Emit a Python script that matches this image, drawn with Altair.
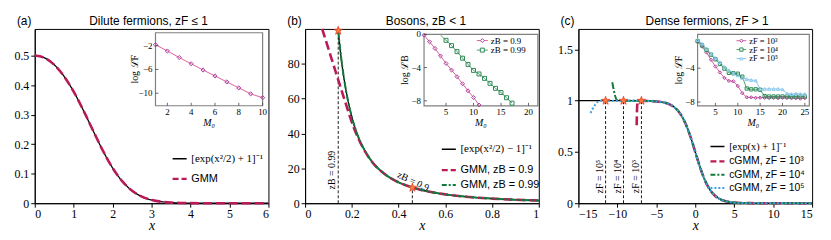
import altair as alt
import pandas as pd

# ---------------- panel (a): dilute fermions ----------------
a_x = [0.0, 0.25, 0.5, 0.75, 1.0, 1.25, 1.5, 1.75, 2.0, 2.25, 2.5, 2.75, 3.0,
       3.25, 3.5, 3.75, 4.0, 4.5, 5.0, 5.5, 6.0]
a_exact = [0.5, 0.4922, 0.4688, 0.4301, 0.3775, 0.314, 0.2451, 0.1778, 0.1192,
           0.0737, 0.0421, 0.0223, 0.011, 0.0051, 0.0022, 0.0009, 0.0003, 0.0,
           0.0, 0.0, 0.0]
a_gmm = [0.5, 0.4921, 0.4687, 0.4302, 0.3776, 0.3141, 0.2451, 0.1777, 0.1191,
         0.0737, 0.0422, 0.0224, 0.0111, 0.005, 0.0021, 0.0008, 0.0003, 0.0,
         0.0, 0.0, 0.0]
a_M = [1, 2, 3, 4, 5, 6, 7, 8, 9, 10]
a_logL = [-1.85, -2.9, -4.0, -5.05, -6.1, -7.1, -8.1, -9.1, -10.1, -10.75]
a_in_xt = [2, 4, 6, 8, 10]
a_in_xl = ["2", "4", "6", "8", "10"]
a_in_yt = [-10, -6, -2]
a_in_yl = ["−10", "−6", "−2"]
a_leg = ["[exp(x²/2) + 1]⁻¹", "GMM"]

# ---------------- panel (b): bosons ----------------
b_x_exact = [0.1411, 0.15, 0.16, 0.17, 0.18, 0.2, 0.22, 0.25, 0.28, 0.3, 0.35,
             0.4, 0.45, 0.5, 0.6, 0.7, 0.8, 0.9, 1.0]
b_exact = [100.0, 88.4, 77.6, 68.7, 61.2, 49.5, 40.8, 31.5, 25.0, 21.7, 15.83,
           12.01, 9.39, 7.51, 5.07, 3.6, 2.65, 2.0, 1.54]
b_x_gmm09 = [0.073, 0.09, 0.11, 0.13, 0.15, 0.17, 0.19, 0.21, 0.23, 0.25, 0.28,
             0.3, 0.35, 0.4, 0.45, 0.5, 0.6, 0.7, 0.8, 0.9, 1.0]
b_gmm09 = [100.0, 92.8, 84.3, 75.8, 67.3, 58.8, 50.5, 42.8, 36.6, 31.3, 24.9,
           21.6, 15.8, 12.0, 9.4, 7.5, 5.07, 3.6, 2.65, 2.0, 1.54]
b_x_gmm099 = [0.1418, 0.15, 0.16, 0.17, 0.18, 0.2, 0.22, 0.25, 0.28, 0.3, 0.35,
              0.4, 0.45, 0.5, 0.6, 0.7, 0.8, 0.9, 1.0]
b_gmm099 = [99.0, 88.4, 77.6, 68.7, 61.2, 49.5, 40.8, 31.5, 25.0, 21.7, 15.83,
            12.01, 9.39, 7.51, 5.07, 3.6, 2.65, 2.0, 1.54]
b_mark_x = [0.1418, 0.459]
b_mark_y = [99.0, 8.96]
b_lab_x = [0.115, 0.462]
b_lab_y = [19.0, 12.5]
b_M1 = [1, 2, 3, 4, 5, 6, 7, 8, 9, 10, 11]
b_L1 = [-0.1, -0.9, -1.7, -2.6, -3.5, -4.3, -5.1, -5.95, -6.8, -7.6, -8.5]
b_M2_line = [4, 5, 6, 7, 8, 9, 10, 11, 12, 13, 14, 15, 16, 17]
b_L2_line = [-0.1, -0.72, -1.36, -2.08, -2.87, -3.62, -4.34, -4.77, -5.3, -5.9,
             -6.5, -7.0, -7.63, -8.28]
b_M2 = [5, 6, 7, 8, 9, 10, 11, 12, 13, 14, 15, 16, 17]
b_L2 = [-0.72, -1.36, -2.08, -2.87, -3.62, -4.34, -4.77, -5.3, -5.9, -6.5,
        -7.0, -7.63, -8.28]
b_in_xt = [5, 10, 15, 20]
b_in_xl = ["5", "10", "15", "20"]
b_in_yt = [-8, -4, 0]
b_in_yl = ["−8", "−4", "0"]
b_leg = ["[exp(x²/2) − 1]⁻¹", "GMM, zB = 0.9", "GMM, zB = 0.99"]
b_in_leg = ["zB = 0.9", "zB = 0.99"]

# ---------------- panel (c): dense fermions ----------------
c_x_exact = [-15, -12, -10, -8, -7, -6, -5, -4, -3.5, -3, -2.5, -2, -1.5, -1,
             -0.5, 0, 0.5, 1, 1.5, 2, 2.5, 3, 3.5, 4, 5, 6, 7, 8, 10, 12, 15]
c_exact = [1.0, 1.0, 1.0, 0.9997, 0.9991, 0.9975, 0.9933, 0.982, 0.9707,
           0.9526, 0.9241, 0.8808, 0.8176, 0.7311, 0.6225, 0.5, 0.3775, 0.2689,
           0.1824, 0.1192, 0.0759, 0.0474, 0.0293, 0.018, 0.0067, 0.0025,
           0.0009, 0.0003, 0.0, 0.0, 0.0]
c_x_tail = [-6, -5, -4, -3.5, -3, -2.5, -2, -1.5, -1, -0.5, 0, 0.5, 1, 1.5, 2,
            2.5, 3, 3.5, 4, 5, 6, 7, 8, 10, 12, 15]
c_tail = [0.9975, 0.9933, 0.982, 0.9707, 0.9526, 0.9241, 0.8808, 0.8176,
          0.7311, 0.6225, 0.5, 0.3775, 0.2689, 0.1824, 0.1192, 0.0759, 0.0474,
          0.0293, 0.018, 0.0067, 0.0025, 0.0009, 0.0003, 0.0, 0.0, 0.0]
c_x_g3 = [-7.52, -7.47, -7.4, -7.2, -7.0] + c_x_tail
c_g3 = [0.76, 0.92, 0.99, 0.999, 0.9991] + c_tail
c_x_g4 = [-10.65, -10.45, -10.3, -10.1, -9.8, -9.0, -8.0, -7.0] + c_x_tail
c_g4 = [1.18, 1.1, 1.05, 1.01, 1.0, 0.9999, 0.9997, 0.9991] + c_tail
c_x_g5 = [-13.45, -13.1, -12.8, -12.5, -12.1, -11.0, -10.0, -8.0, -7.0] + c_x_tail
c_g5 = [0.88, 0.93, 0.965, 0.99, 1.0, 1.0, 1.0, 0.9997, 0.9991] + c_tail
c_mark_x = [-11.51, -9.21, -6.91]
c_mark_y = [1.0, 1.0, 1.0]
c_lab_x = [-12.2, -9.9, -7.6]
c_lab_y = [0.26, 0.26, 0.26]
c_M = list(range(1, 26))
c_L3 = [-0.88, -1.45, -2.15, -3.0, -3.8, -4.5, -5.15, -5.5, -5.55, -6.1, -6.95,
        -7.45, -7.45, -7.5, -7.48, -7.5, -7.52, -7.5, -7.55, -7.5, -7.52,
        -7.55, -7.55, -7.6, -7.55]
c_L4 = [-0.8, -1.3, -1.85, -2.4, -2.95, -3.5, -4.05, -4.55, -4.6, -4.65, -5.0,
        -6.4, -6.5, -6.5, -6.55, -7.3, -7.35, -7.35, -7.35, -7.35, -7.35,
        -7.35, -7.35, -7.35, -7.35]
c_L5 = [-0.67, -1.1, -1.7, -2.3, -2.8, -3.3, -3.85, -4.25, -4.6, -4.85, -5.15,
        -5.3, -5.4, -5.45, -6.45, -6.45, -6.45, -6.45, -6.45, -6.5, -7.0,
        -7.05, -7.0, -7.05, -7.05]
c_in_xt = [5, 10, 15, 20, 25]
c_in_xl = ["5", "10", "15", "20", "25"]
c_in_yt = [-8, -4]
c_in_yl = ["−8", "−4"]
c_leg = ["[exp(x) + 1]⁻¹", "cGMM, zF = 10³", "cGMM, zF = 10⁴", "cGMM, zF = 10⁵"]
c_in_leg = ["zF = 10³", "zF = 10⁴", "zF = 10⁵"]

# ---------------- styling / layout ----------------
RED = "#bb1a58"
GREEN = "#117a3d"
BLUE = "#3d9fe0"
PINK = "#df5f9e"
PINK_M = "#a8439c"
GREEN_I = "#4aa56c"
GREEN_M = "#2f8a55"
BLUE_I = "#8cc8ee"
STAR_F = "#ff7b3d"
STAR_S = "#e2321c"
# five-pointed star as an SVG symbol path (Vega has no built-in star)
STAR_PATH = ("M0,-1L0.235,-0.324L0.951,-0.309L0.38,0.124L0.588,0.809L0,0.4"
             "L-0.588,0.809L-0.38,0.124L-0.951,-0.309L-0.235,-0.324Z")
H = 176
WA, WB, WC = 236, 236, 236


def main_axes(xvals, yvals, xfmt=None, yfmt=None):
    xa = dict(values=xvals, title="x", grid=False, tickSize=4, labelFontSize=12,
              labelFont="Liberation Serif", labelPadding=1,
              titleFont="Liberation Serif", titleFontStyle="italic",
              titleFontWeight="normal", titleFontSize=14, titlePadding=0,
              domainColor="black", tickColor="black", labelColor="black",
              titleColor="black")
    ya = dict(values=yvals, title=None, grid=False, tickSize=4, labelFontSize=12,
              labelFont="Liberation Serif", labelPadding=2,
              domainColor="black", tickColor="black", labelColor="black")
    if xfmt:
        xa["format"] = xfmt
    if yfmt:
        ya["format"] = yfmt
    return alt.Axis(**xa), alt.Axis(**ya)


class Panel:
    def __init__(self, xdom, ydom, W, xvals, yvals, xfmt=None, yfmt=None):
        self.xsc = alt.Scale(domain=xdom, nice=False, zero=False)
        self.ysc = alt.Scale(domain=ydom, nice=False, zero=False)
        self.xax, self.yax = main_axes(xvals, yvals, xfmt, yfmt)
        self.xdom, self.ydom, self.W = xdom, ydom, W
        self.layers = []

    def X(self, f):
        return alt.X(f, scale=self.xsc, axis=self.xax)

    def Y(self, f):
        return alt.Y(f, scale=self.ysc, axis=self.yax)

    def curve(self, xs, ys, color, dash, width):
        self.layers.append(alt.Chart(pd.DataFrame({"x": xs, "y": ys})).mark_line(
            interpolate="monotone", strokeWidth=width, color=color, strokeDash=dash).encode(
            x=self.X("x:Q"), y=self.Y("y:Q")))

    def vrules(self, xs, ys):
        df = pd.DataFrame({"x": xs, "y0": [0.0] * len(xs), "y1": ys})
        self.layers.append(alt.Chart(df).mark_rule(
            color="black", strokeWidth=0.9, strokeDash=[3, 2]).encode(
            x=self.X("x:Q"), y=self.Y("y0:Q"), y2="y1:Q"))

    def stars(self, xs, ys):
        df = pd.DataFrame({"x": xs, "y": ys})
        self.layers.append(alt.Chart(df).mark_point(
            shape=STAR_PATH, filled=True, size=80, fill=STAR_F, stroke=STAR_S,
            strokeWidth=0.7, opacity=1).encode(x=self.X("x:Q"), y=self.Y("y:Q")))

    def labels(self, xs, ys, texts, angle):
        df = pd.DataFrame({"x": xs, "y": ys, "t": texts})
        self.layers.append(alt.Chart(df).mark_text(
            angle=angle, font="Liberation Serif", fontSize=10, align="center",
            baseline="middle", color="black").encode(
            x=self.X("x:Q"), y=self.Y("y:Q"), text="t:N"))

    def header(self, tag, title, dx):
        """Panel tag at the upper left and panel title centred above the frame, same line."""
        self.layers.append(alt.Chart(pd.DataFrame({"t": [tag]})).mark_text(
            align="left", baseline="alphabetic", fontSize=12, color="black").encode(
            x=alt.value(-18), y=alt.value(-4), text="t:N"))
        self.layers.append(alt.Chart(pd.DataFrame({"t": [title]})).mark_text(
            align="center", baseline="alphabetic", fontSize=12, color="black").encode(
            x=alt.value(self.W / 2 + dx), y=alt.value(-4), text="t:N"))

    def legend(self, names, styles, fx0, fx1, rows_f, fs=11):
        """Legend rows placed at fractions of the plot (fx0..fx1 line, rows_f from top)."""
        x0 = self.xdom[0] + fx0 * (self.xdom[1] - self.xdom[0])
        x1 = self.xdom[0] + fx1 * (self.xdom[1] - self.xdom[0])
        xt = x1 + 0.02 * (self.xdom[1] - self.xdom[0])
        for name, (color, dash, width, font), f in zip(names, styles, rows_f):
            yv = self.ydom[1] - f * (self.ydom[1] - self.ydom[0])
            self.layers.append(alt.Chart(pd.DataFrame({"x": [x0], "x2": [x1], "y": [yv]})).mark_rule(
                color=color, strokeDash=dash, strokeWidth=width).encode(
                x=self.X("x:Q"), x2="x2:Q", y=self.Y("y:Q")))
            self.layers.append(alt.Chart(pd.DataFrame({"x": [xt], "y": [yv], "t": [name]})).mark_text(
                align="left", baseline="middle", font=font, fontSize=fs, color="black").encode(
                x=self.X("x:Q"), y=self.Y("y:Q"), text="t:N"))

    def inset(self, box, series, pts, xt, xl, yt, yl, ytitle, ytm, msize, leg=None):
        bx0, bx1, by0, by1, m0, m1, l0, l1 = box
        kx = (bx1 - bx0) / (m1 - m0)
        ky = (by1 - by0) / (l1 - l0)
        tdx = 3.0 * (self.xdom[1] - self.xdom[0]) / self.W
        tdy = 3.0 * (self.ydom[1] - self.ydom[0]) / H

        def ex(f):
            return f"{bx0} + (datum.{f} - ({m0})) * {kx}"

        def ey(f):
            return f"{by0} + (datum.{f} - ({l0})) * {ky}"

        X, Y = self.X("xm:Q"), self.Y("ym:Q")
        L = self.layers
        bdf = pd.DataFrame({"M": [m0], "M2": [m1], "L": [l0], "L2": [l1]})
        L.append(alt.Chart(bdf).transform_calculate(
            xm=ex("M"), xm2=ex("M2"), ym=ey("L"), ym2=ey("L2")).mark_rect(
            fill="white", stroke="#808080", strokeWidth=1.2).encode(
            x=X, x2="xm2:Q", y=Y, y2="ym2:Q"))
        for Ml, Ll, lc in series:
            L.append(alt.Chart(pd.DataFrame({"M": Ml, "L": Ll})).transform_calculate(
                xm=ex("M"), ym=ey("L")).mark_line(color=lc, strokeWidth=1).encode(x=X, y=Y))
        for Mp, Lp, mc, shp in pts:
            L.append(alt.Chart(pd.DataFrame({"M": Mp, "L": Lp})).transform_calculate(
                xm=ex("M"), ym=ey("L")).mark_point(
                filled=False, size=msize, strokeWidth=1, opacity=1, color=mc,
                shape=shp).encode(x=X, y=Y))
        xdf = pd.DataFrame({"M": xt, "lab": xl, "L": [l0] * len(xt)})
        L.append(alt.Chart(xdf).transform_calculate(
            xm=ex("M"), ym=ey("L"), ym2=ey("L") + f" + {tdy}").mark_rule(
            color="#444444", strokeWidth=0.8).encode(x=X, y=Y, y2="ym2:Q"))
        L.append(alt.Chart(xdf).transform_calculate(xm=ex("M"), ym=ey("L")).mark_text(
            baseline="top", dy=2, font="Liberation Serif", fontSize=9, color="black").encode(
            x=X, y=Y, text="lab:N"))
        ydf = pd.DataFrame({"L": yt, "lab": yl, "M": [m0] * len(yt)})
        L.append(alt.Chart(ydf).transform_calculate(
            xm=ex("M"), xm2=ex("M") + f" + {tdx}", ym=ey("L")).mark_rule(
            color="#444444", strokeWidth=0.8).encode(x=X, x2="xm2:Q", y=Y))
        L.append(alt.Chart(ydf).transform_calculate(xm=ex("M"), ym=ey("L")).mark_text(
            align="right", baseline="middle", dx=-3, font="Liberation Serif", fontSize=9,
            color="black").encode(x=X, y=Y, text="lab:N"))
        tdf = pd.DataFrame({"M": [(m0 + m1) / 2], "L": [l0], "lab": ["M₀"]})
        L.append(alt.Chart(tdf).transform_calculate(xm=ex("M"), ym=ey("L")).mark_text(
            baseline="top", dy=12, font="Liberation Serif", fontSize=10, fontStyle="italic",
            color="black").encode(x=X, y=Y, text="lab:N"))
        vdf = pd.DataFrame({"M": [ytm], "L": [(l0 + l1) / 2], "lab": [ytitle]})
        L.append(alt.Chart(vdf).transform_calculate(xm=ex("M"), ym=ey("L")).mark_text(
            angle=270, align="center", baseline="middle", font="Liberation Serif",
            fontSize=10, color="black").encode(x=X, y=Y, text="lab:N"))
        if leg:
            names, lcols, mcols, shapes, ma, mb, rows, fs = leg
            for name, lc, mc, shp, lv in zip(names, lcols, mcols, shapes, rows):
                L.append(alt.Chart(pd.DataFrame({"M": [ma], "M2": [mb], "L": [lv]})).transform_calculate(
                    xm=ex("M"), xm2=ex("M2"), ym=ey("L")).mark_rule(
                    color=lc, strokeWidth=1).encode(x=X, x2="xm2:Q", y=Y))
                L.append(alt.Chart(pd.DataFrame({"M": [(ma + mb) / 2], "L": [lv]})).transform_calculate(
                    xm=ex("M"), ym=ey("L")).mark_point(
                    filled=True, fill="white", size=msize, strokeWidth=1, opacity=1,
                    stroke=mc, shape=shp).encode(x=X, y=Y))
                L.append(alt.Chart(pd.DataFrame({"M": [mb], "L": [lv], "lab": [name]})).transform_calculate(
                    xm=ex("M"), ym=ey("L")).mark_text(
                    align="left", baseline="middle", dx=3, font="Liberation Serif",
                    fontSize=fs, color="black").encode(x=X, y=Y, text="lab:N"))

    def chart(self):
        return alt.layer(*self.layers).properties(width=self.W, height=H)


# ---- panel (a)
pa = Panel([0, 6], [0, 0.59], WA, list(range(7)), [0, 0.1, 0.2, 0.3, 0.4, 0.5],
           yfmt="~g")
pa.curve(a_x, a_exact, "black", [1, 0], 1.3)
pa.curve(a_x, a_gmm, RED, [9, 4], 2.6)
pa.legend(a_leg, [("black", [1, 0], 1.6, "Liberation Serif"),
                  (RED, [6, 3], 2.4, "Liberation Sans")],
          0.59, 0.65, [0.745, 0.86])
pa.header("(a)", "Dilute fermions, zF ≤ 1", -3)
pa.inset((3.10, 5.85, 0.330, 0.577, 1, 10, -12.1, 0.16),
         [(a_M, a_logL, PINK)], [(a_M, a_logL, PINK_M, "diamond")],
         a_in_xt, a_in_xl, a_in_yt, a_in_yl, "log ℒF", -0.75, 18)

# ---- panel (b)
pb = Panel([0, 1], [0, 100], WB, [0, 0.2, 0.4, 0.6, 0.8, 1], [0, 20, 40, 60, 80],
           xfmt="~g")
pb.vrules(b_mark_x, b_mark_y)
pb.curve(b_x_exact, b_exact, "black", [1, 0], 1.3)
pb.curve(b_x_gmm09, b_gmm09, RED, [9, 4], 2.6)
pb.curve(b_x_gmm099, b_gmm099, GREEN, [7, 2, 2, 2], 2.0)
pb.stars(b_mark_x, b_mark_y)
pb.labels(b_lab_x[:1], b_lab_y[:1], ["zB = 0.99"], 270)
pb.labels(b_lab_x[1:], b_lab_y[1:], ["zB = 0.9"], 25)
pb.legend(b_leg, [("black", [1, 0], 1.6, "Liberation Serif"),
                  (RED, [6, 3], 2.4, "Liberation Sans"),
                  (GREEN, [5, 2, 2, 2], 2.0, "Liberation Sans")],
          0.585, 0.645, [0.69, 0.81, 0.895])
pb.header("(b)", "Bosons, zB < 1", 4)
pb.inset((0.509, 0.996, 55.9, 96.9, 1, 21.7, -8.6, 0),
         [(b_M1, b_L1, PINK), (b_M2_line, b_L2_line, GREEN_I)],
         [(b_M1, b_L1, PINK_M, "diamond"), (b_M2, b_L2, GREEN_M, "square")],
         b_in_xt, b_in_xl, b_in_yt, b_in_yl, "log ℒB", -2.5, 16,
         leg=(b_in_leg, [PINK, GREEN_I], [PINK_M, GREEN_M], ["diamond", "square"],
              10.6, 12.6, [-0.75, -1.9], 9))

# ---- panel (c)
pc = Panel([-15, 15], [0, 1.7], WC, [-15, -10, -5, 0, 5, 10, 15], [0, 0.5, 1, 1.5],
           yfmt="~g")
pc.vrules(c_mark_x, c_mark_y)
pc.curve(c_x_exact, c_exact, "black", [1, 0], 1.3)
pc.curve(c_x_g3, c_g3, RED, [9, 4], 2.6)
pc.curve(c_x_g4, c_g4, GREEN, [7, 2, 2, 2], 2.0)
pc.curve(c_x_g5, c_g5, BLUE, [2, 2], 2.0)
pc.stars(c_mark_x, c_mark_y)
pc.labels(c_lab_x, c_lab_y, ["zF = 10⁵", "zF = 10⁴", "zF = 10³"], 270)
pc.legend(c_leg, [("black", [1, 0], 1.6, "Liberation Serif"),
                  (RED, [6, 3], 2.4, "Liberation Sans"),
                  (GREEN, [5, 2, 2, 2], 2.0, "Liberation Sans"),
                  (BLUE, [2, 2], 2.0, "Liberation Sans")],
          0.565, 0.625, [0.675, 0.76, 0.837, 0.913], fs=10.5)
pc.header("(c)", "Dense fermions, zF > 1", 12)
pc.inset((0.30, 14.64, 0.950, 1.647, 1, 26, -8.45, 0),
         [(c_M, c_L3, PINK), (c_M, c_L4, GREEN_I), (c_M, c_L5, BLUE_I)],
         [(c_M, c_L3, PINK_M, "diamond"), (c_M, c_L4, GREEN_M, "square"),
          (c_M, c_L5, BLUE_I, "triangle-up")],
         c_in_xt, c_in_xl, c_in_yt, c_in_yl, "log ℒF", -3.2, 11,
         leg=(c_in_leg, [PINK, GREEN_I, BLUE_I], [PINK_M, GREEN_M, BLUE_I],
              ["diamond", "square", "triangle-up"], 9.7, 11.9,
              [-0.75, -1.8, -2.85], 8.5))

chart = alt.hconcat(pa.chart(), pb.chart(), pc.chart(), spacing=12).configure_view(
    stroke="black")

chart.save("out.html", embed_options={"renderer": "svg", "actions": False})
